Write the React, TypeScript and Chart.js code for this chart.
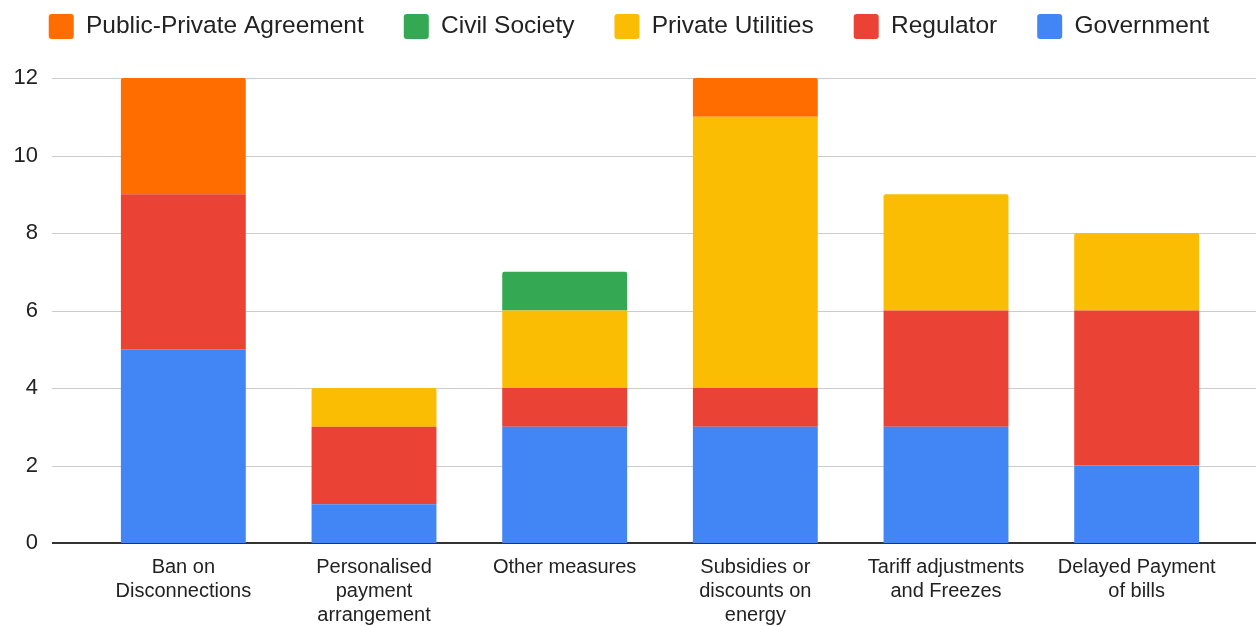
import React, { useEffect, useRef } from "react";
import { Chart, registerables } from "chart.js";

Chart.register(...registerables);

const categories: string[][] = [
  ["Ban on", "Disconnections"],
  ["Personalised", "payment", "arrangement"],
  ["Other measures"],
  ["Subsidies or", "discounts on", "energy"],
  ["Tariff adjustments", "and Freezes"],
  ["Delayed Payment", "of bills"],
];

const government = [5, 1, 3, 3, 3, 2];
const regulator = [4, 2, 1, 1, 3, 4];
const privateUtilities = [0, 1, 2, 7, 3, 2];
const civilSociety = [0, 0, 1, 0, 0, 0];
const publicPrivateAgreement = [3, 0, 0, 1, 0, 0];

const yTicks = [0, 2, 4, 6, 8, 10, 12];

const seriesList = [
  { label: "Government", data: government, color: "#4285F4" },
  { label: "Regulator", data: regulator, color: "#EA4335" },
  { label: "Private Utilities", data: privateUtilities, color: "#FBBC04" },
  { label: "Civil Society", data: civilSociety, color: "#34A853" },
  { label: "Public-Private Agreement", data: publicPrivateAgreement, color: "#FF6D01" },
];

const FONT = "'Liberation Sans', Arial, sans-serif";
const TEXT = "#222222";

const topIndex = categories.map((_, i) => {
  let top = -1;
  seriesList.forEach((s, d) => {
    if (s.data[i] > 0) top = d;
  });
  return top;
});

const fullGrid = {
  id: "fullGrid",
  beforeDatasetsDraw(chart: any) {
    const y = chart.scales.y;
    const ctx = chart.ctx;
    ctx.save();
    y.ticks.forEach((t: any) => {
      const zero = t.value === 0;
      const py = Math.round(y.getPixelForValue(t.value)) + (zero ? 0 : 0.5);
      ctx.strokeStyle = zero ? "#333333" : "#cccccc";
      ctx.lineWidth = zero ? 2 : 1;
      ctx.beginPath();
      ctx.moveTo(52, py);
      ctx.lineTo(chart.width, py);
      ctx.stroke();
    });
    ctx.restore();
  },
};

const legendTweak = {
  id: "legendTweak",
  beforeLayout(chart: any) {
    const legend = chart.legend;
    if (legend && !legend._tweaked) {
      const origFit = legend.fit;
      legend.fit = function () {
        this.maxWidth = 2000;
        origFit.call(this);
        this.height = 78;
      };
      const origDraw = legend.draw;
      legend.draw = function () {
        const ctx = this.ctx;
        const r = this.right;
        this.right = r + 26;
        ctx.save();
        ctx.translate(0, -26);
        origDraw.call(this);
        ctx.restore();
        this.right = r;
      };
      legend._tweaked = true;
    }
  },
};

export default function App() {
  const ref = useRef<HTMLCanvasElement | null>(null);

  useEffect(() => {
    if (!ref.current) return;
    const chart = new Chart(ref.current, {
      type: "bar",
      data: {
        labels: categories,
        datasets: seriesList.map((s, d) => ({
          label: s.label,
          data: s.data,
          backgroundColor: s.color,
          borderColor: s.color,
          borderWidth: 0,
          borderRadius: (ctx: any) =>
            topIndex[ctx.dataIndex] === d ? { topLeft: 2, topRight: 2, bottomLeft: 0, bottomRight: 0 } : 0,
          borderSkipped: "start",
          barPercentage: 0.655,
          categoryPercentage: 1,
        })),
      },
      options: {
        animation: false,
        responsive: true,
        maintainAspectRatio: false,
        layout: { padding: { top: 0, right: 24, bottom: 0, left: 0 } },
        plugins: {
          tooltip: { enabled: false },
          legend: {
            position: "top",
            reverse: true,
            labels: {
              font: { family: FONT, size: 24.5 },
              color: TEXT,
              boxWidth: 25,
              boxHeight: 25,
              padding: 40,
              useBorderRadius: true,
              borderRadius: 3,
            },
          },
        },
        scales: {
          x: {
            stacked: true,
            grid: { display: false, drawTicks: false },
            border: { display: false },
            afterFit: (scale: any) => {
              scale.height = 83;
            },
            ticks: {
              font: { family: FONT, size: 20, lineHeight: 1.2 },
              color: TEXT,
              padding: 12,
              maxRotation: 0,
              autoSkip: false,
            },
          },
          y: {
            stacked: true,
            min: 0,
            max: 12,
            grid: { display: false, drawTicks: false },
            border: { display: false },
            afterFit: (scale: any) => {
              scale.width = 88;
            },
            afterBuildTicks: (scale: any) => {
              scale.ticks = yTicks.map((v) => ({ value: v }));
            },
            ticks: {
              font: { family: FONT, size: 22 },
              color: TEXT,
              padding: 50,
            },
          },
        },
      },
      plugins: [fullGrid, legendTweak],
    });
    return () => chart.destroy();
  }, []);

  return (
    <div style={{ position: "fixed", left: 0, top: 0, width: 1256, height: 626, background: "#ffffff" }}>
      <canvas ref={ref} />
    </div>
  );
}
